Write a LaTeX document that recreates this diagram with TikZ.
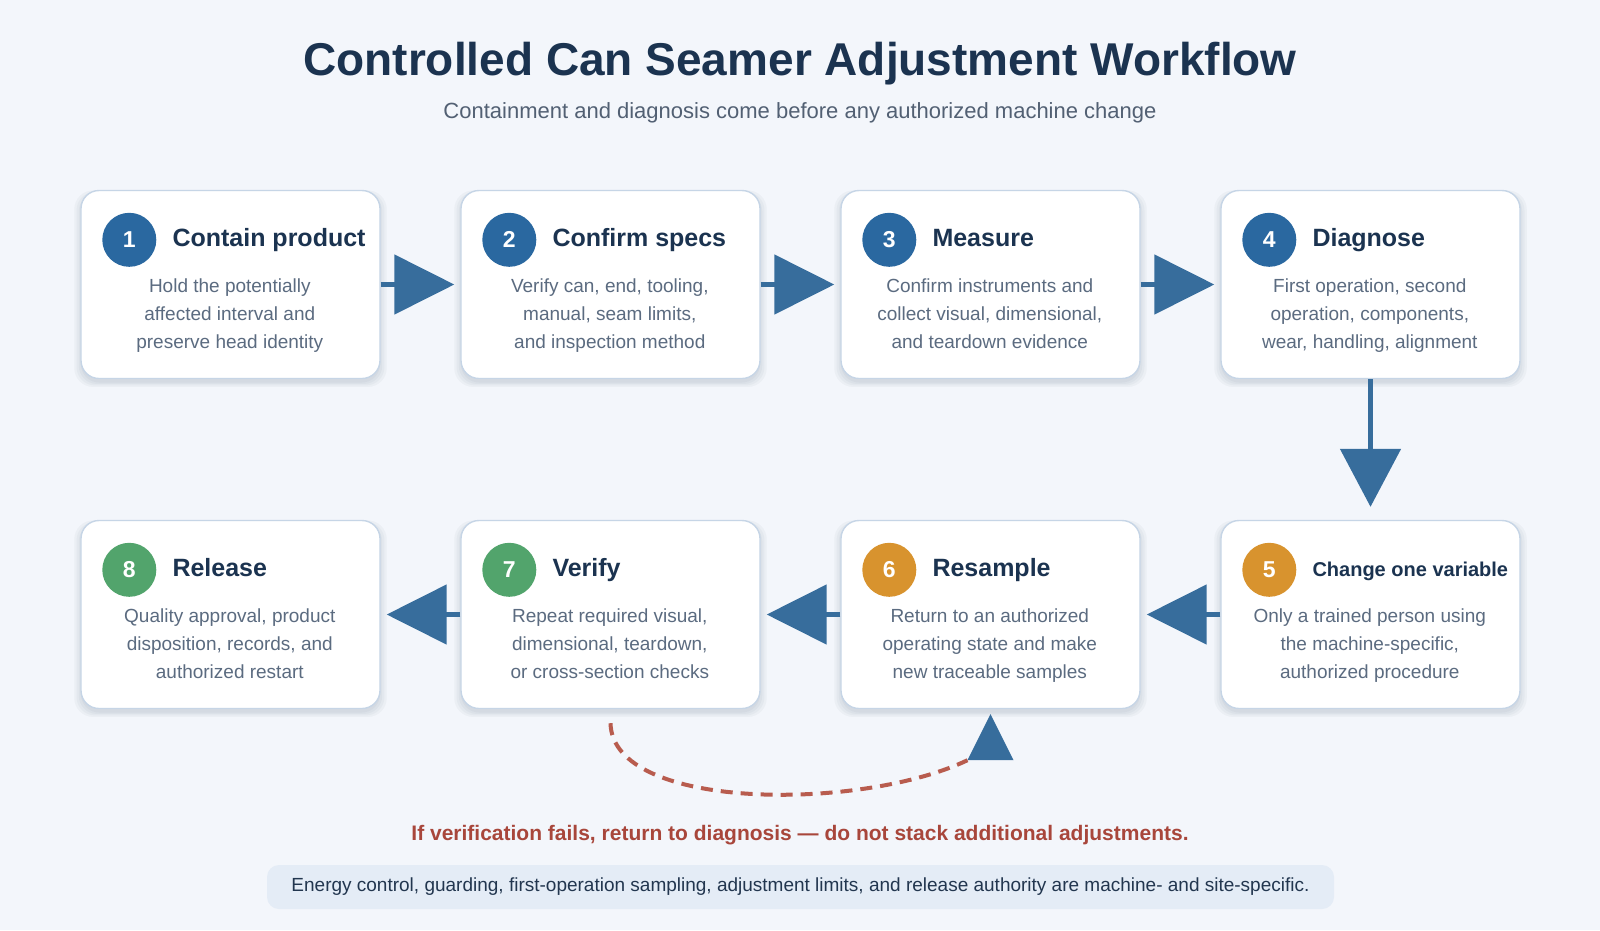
\documentclass[tikz,border=0pt]{standalone}
\usepackage{fontspec}
\setmainfont{Liberation Sans}
\usetikzlibrary{calc,arrows.meta,shadows}

\definecolor{bgc}{HTML}{F3F6FB}
\definecolor{ink}{HTML}{1B3350}
\definecolor{muted}{HTML}{5B6B80}
\definecolor{edge}{HTML}{C6D5E6}
\definecolor{flow}{HTML}{376D9C}
\definecolor{dotblue}{HTML}{2A68A0}
\definecolor{dotorange}{HTML}{D8932E}
\definecolor{dotgreen}{HTML}{52A46C}
\definecolor{warn}{HTML}{A8463B}
\definecolor{loopc}{HTML}{B85C4E}
\definecolor{notefill}{HTML}{E4ECF6}
\definecolor{notetext}{HTML}{22364F}

\tikzset{
	softshadow/.style={drop shadow={shadow xshift=0pt, shadow yshift=-4pt, opacity=0.035, fill=ink, shadow scale=#1}},
	stagebox/.style={rectangle, rounded corners=18pt, minimum width=299pt, minimum height=188pt, fill=white, draw=edge, line width=1.4pt, softshadow=1.045, softshadow=1.03, softshadow=1.015, softshadow=1},
	stagedot/.style={circle, minimum size=54pt, inner sep=0pt, text=white, font=\fontsize{23}{23}\selectfont\bfseries},
	stagehead/.style={inner sep=0pt, anchor=base west, text=ink, font=\fontsize{25}{30}\selectfont\bfseries},
	stagebody/.style={inner sep=0pt, anchor=north, align=center, text=muted, font=\fontsize{19}{28}\selectfont},
	flowarrow/.style={draw=flow, line width=5pt, -{Triangle[length=60pt, width=59pt]}, shorten >=6pt},
	loopline/.style={draw=loopc, line width=4pt, dash pattern=on 12pt off 8pt},
}

% name, x, y, number, colour, title, text
\newcommand\wfstage[7]{
	\node[stagebox] (#1) at (#2, #3) {};
	\node[stagedot, fill=#5] (#1n) at ($(#1.north west)+(49, 50)$) {#4};
	\node[stagehead] (#1t) at ($(#1.north west)+(92, 57)$) {#6};
	\node[stagebody] (#1b) at ($(#1.north west)+(149.5, 89)$) {#7};
}

\begin{document}
\begin{tikzpicture}[x=1pt, y=-1pt]
		%%%%% START %%%%%
		
		\fill[bgc] (0, 0) rectangle (1600, 930);
		\useasboundingbox (0, 0) rectangle (1600, 930);
		
		\node[text=ink, font=\fontsize{46}{50}\selectfont\bfseries, anchor=base] (title) at (800, 75) {Controlled Can Seamer Adjustment Workflow};
		\node[text=muted!90!black, font=\fontsize{22}{26}\selectfont, anchor=base] (subtitle) at (800, 118) {Containment and diagnosis come before any authorized machine change};
		
		\wfstage{b1}{230.5}{284.5}{1}{dotblue}{Contain product}{Hold the potentially\\affected interval and\\preserve head identity}
		\wfstage{b2}{610.5}{284.5}{2}{dotblue}{Confirm specs}{Verify can, end, tooling,\\manual, seam limits,\\and inspection method}
		\wfstage{b3}{990.5}{284.5}{3}{dotblue}{Measure}{Confirm instruments and\\collect visual, dimensional,\\and teardown evidence}
		\wfstage{b4}{1370.5}{284.5}{4}{dotblue}{Diagnose}{First operation, second\\operation, components,\\wear, handling, alignment}
		
		\wfstage{b5}{1370.5}{614.5}{5}{dotorange}{\fontsize{20}{24}\selectfont Change one variable}{Only a trained person using\\the machine-specific,\\authorized procedure}
		\wfstage{b6}{990.5}{614.5}{6}{dotorange}{Resample}{Return to an authorized\\operating state and make\\new traceable samples}
		\wfstage{b7}{610.5}{614.5}{7}{dotgreen}{Verify}{Repeat required visual,\\dimensional, teardown,\\or cross-section checks}
		\wfstage{b8}{230.5}{614.5}{8}{dotgreen}{Release}{Quality approval, product\\disposition, records, and\\authorized restart}
		
		\draw[flowarrow] (b1) -- (b2);
		\draw[flowarrow] (b2) -- (b3);
		\draw[flowarrow] (b3) -- (b4);
		\draw[flowarrow, -{Triangle[length=58pt, width=60pt]}, shorten >=13pt] (b4) -- (b5);
		\draw[flowarrow] (b5) -- (b6);
		\draw[flowarrow] (b6) -- (b7);
		\draw[flowarrow] (b7) -- (b8);
		
		% back to resample when verification fails
		\coordinate (loopa) at ($(b7.south)+(0, 14)$);
		\coordinate (loopb) at ($(b6.south)+(-23, 51)$);
		\draw[loopline] (loopa) .. controls ($(loopa)+(2, 88)$) and ($(loopb)+(-107, 51)$) .. (loopb);
		\fill[flow] ($(b6.south)+(0, 5)$) -- ($(b6.south)+(23, 51)$) -- ($(b6.south)+(-23, 51)$) -- cycle;
		
		\node[text=warn, font=\fontsize{21}{24}\selectfont\bfseries, anchor=base] (warning) at (800, 840) {If verification fails, return to diagnosis — do not stack additional adjustments.};
		\node[fill=notefill, rounded corners=12pt, minimum width=1067pt, minimum height=44pt, text=notetext, font=\fontsize{19}{22}\selectfont] (note) at (800.5, 887) {Energy control, guarding, first-operation sampling, adjustment limits, and release authority are machine- and site-specific.};
		
		%%%%% END %%%%%
\end{tikzpicture}
\end{document}
